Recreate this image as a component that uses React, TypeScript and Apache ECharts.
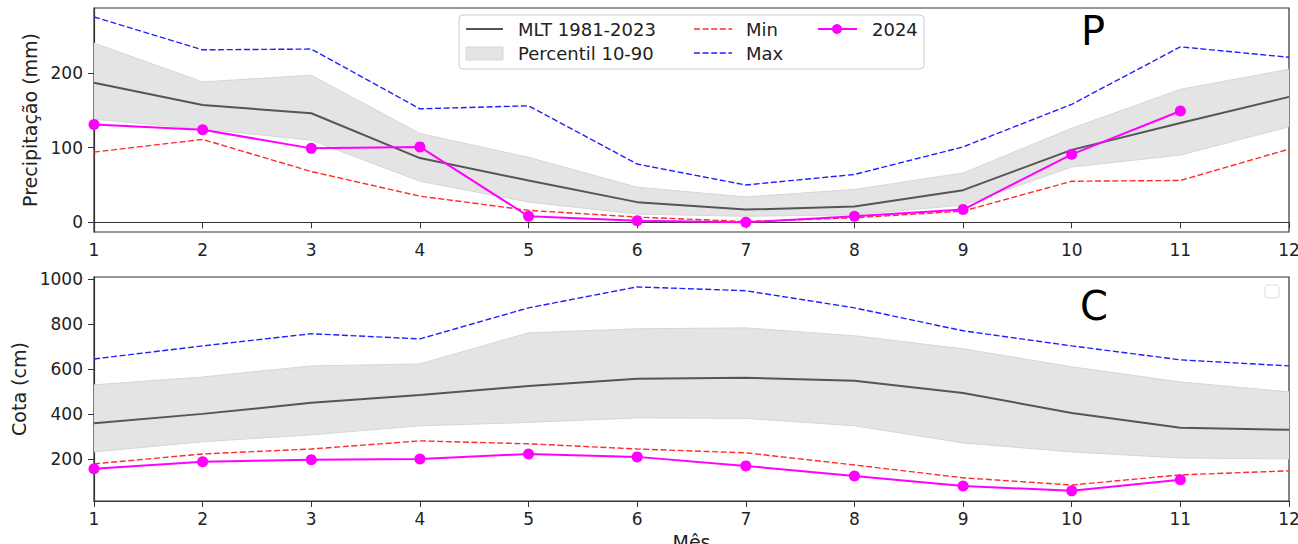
import React, { useEffect, useRef } from "react";
import * as echarts from "echarts";

const months = ["1", "2", "3", "4", "5", "6", "7", "8", "9", "10", "11", "12"];

// Precipitação (mm)
const pMlt = [187, 157, 146, 86, 56, 27, 17, 21, 43, 97, 133, 168];
const pP10 = [138, 125, 110, 55, 27, 11, 8, 10, 23, 74, 90, 128];
const pP90 = [240, 188, 197, 119, 87, 47, 34, 44, 66, 126, 178, 205];
const pMin = [94, 111, 68, 35, 16, 7, 1, 6, 15, 55, 56, 98];
const pMax = [275, 231, 232, 152, 156, 78, 50, 64, 101, 158, 235, 221];
const p2024 = [131, 124, 99, 101, 8, 2, 0, 8, 17, 91, 149];

// Cota (cm)
const cMlt = [358, 400, 449, 484, 524, 556, 560, 547, 493, 404, 338, 329];
const cP10 = [231, 276, 307, 347, 362, 382, 380, 347, 271, 231, 204, 200];
const cP90 = [529, 564, 613, 622, 760, 778, 782, 747, 689, 609, 542, 498];
const cMin = [178, 222, 244, 280, 267, 244, 227, 173, 116, 84, 129, 147];
const cMax = [644, 702, 756, 733, 871, 964, 947, 871, 769, 702, 640, 613];
const c2024 = [156, 187, 196, 200, 222, 209, 169, 124, 80, 58, 107];

const pTicks = [0, 100, 200];
const cTicks = [200, 400, 600, 800, 1000];

const FONT = "DejaVu Sans";
const TXT = "#222";
const DASH = [6, 2.6];
const C_MLT = "#555555";
const C_BAND = "#e4e4e4";
const C_MIN = "#ff2a2a";
const C_MAX = "#2020ff";
const C_2024 = "#ff00ff";

function panelSeries(idx: number, mlt: number[], p10: number[], p90: number[], mn: number[], mx: number[], y24: number[]) {
  const stack = "band" + idx;
  return [
    {
      type: "line", name: "p10_" + idx, xAxisIndex: idx, yAxisIndex: idx, stack,
      data: p10, symbol: "none", lineStyle: { color: "#d6d6d6", width: 1 }, z: 1,
    },
    {
      type: "line", name: "Percentil 10-90", xAxisIndex: idx, yAxisIndex: idx, stack,
      data: p90.map((v, i) => v - p10[i]), symbol: "none",
      lineStyle: { color: "#d6d6d6", width: 1 },
      areaStyle: { color: C_BAND, opacity: 1 }, z: 1,
    },
    {
      type: "line", name: "MLT 1981-2023", xAxisIndex: idx, yAxisIndex: idx, data: mlt, symbol: "none",
      lineStyle: { color: C_MLT, width: 2 }, z: 3,
    },
    {
      type: "line", name: "Min", xAxisIndex: idx, yAxisIndex: idx, data: mn, symbol: "none",
      lineStyle: { color: C_MIN, width: 1.4, type: DASH }, z: 4,
    },
    {
      type: "line", name: "Max", xAxisIndex: idx, yAxisIndex: idx, data: mx, symbol: "none",
      lineStyle: { color: C_MAX, width: 1.4, type: DASH }, z: 4,
    },
    {
      type: "line", name: "2024", xAxisIndex: idx, yAxisIndex: idx, data: y24, symbol: "circle", symbolSize: 11,
      lineStyle: { color: C_2024, width: 2 }, itemStyle: { color: C_2024 }, z: 5,
    },
  ];
}

function legendGraphic() {
  const r1 = 29, r2 = 53;
  const txt = (x: number, y: number, t: string) => ({
    type: "text", z: 101, style: { x, y, text: t, fontSize: 18, fontFamily: FONT, fill: TXT, verticalAlign: "middle", align: "left" },
  });
  const ln = (x1: number, x2: number, y: number, color: string, dash?: number[]) => ({
    type: "line", z: 101, shape: { x1, y1: y, x2, y2: y },
    style: { stroke: color, lineWidth: dash ? 1.4 : 2, lineDash: dash || null },
  });
  return [
    { type: "rect", z: 100, shape: { x: 459, y: 15, width: 465, height: 54, r: 4 }, style: { fill: "rgba(255,255,255,0.8)", stroke: "#cccccc", lineWidth: 1 } },
    ln(466, 503, r1, C_MLT),
    txt(518, r1, "MLT 1981-2023"),
    { type: "rect", z: 101, shape: { x: 466, y: 47, width: 37, height: 13 }, style: { fill: C_BAND, stroke: "#d6d6d6", lineWidth: 1 } },
    txt(518, r2, "Percentil 10-90"),
    ln(694, 732, r1, C_MIN, DASH),
    txt(746, r1, "Min"),
    ln(694, 732, r2, C_MAX, DASH),
    txt(746, r2, "Max"),
    ln(818, 857, r1, C_2024),
    { type: "circle", z: 102, shape: { cx: 837, cy: r1, r: 5 }, style: { fill: C_2024 } },
    txt(872, r1, "2024"),
  ];
}

export default function App() {
  const ref = useRef<HTMLDivElement>(null);
  useEffect(() => {
    document.body.style.margin = "0";
    const chart = echarts.init(ref.current!, null, { renderer: "svg" });
    const xAxisBase = (idx: number, name?: string) => ({
      type: "category", gridIndex: idx, data: months, boundaryGap: false,
      axisLine: { lineStyle: { color: "#333", width: 1.2 } },
      axisTick: { length: 6, lineStyle: { color: "#333" }, alignWithLabel: true },
      axisLabel: { color: TXT, fontSize: 17, fontFamily: FONT, margin: 9 },
      name, nameLocation: "middle", nameGap: 31,
      nameTextStyle: { color: TXT, fontSize: 19, fontFamily: FONT },
    });
    const yAxisBase = (idx: number, min: number, max: number, ticks: number[], name: string, gap: number) => ({
      type: "value", gridIndex: idx, min, max, splitLine: { show: false },
      axisLine: { show: true, lineStyle: { color: "#333", width: 1.2 } },
      axisTick: { show: true, length: 6, lineStyle: { color: "#333" }, customValues: ticks },
      axisLabel: { color: TXT, fontSize: 17, fontFamily: FONT, margin: 11, customValues: ticks, formatter: (v: number) => String(v) },
      name, nameLocation: "middle", nameGap: gap, nameRotate: 90,
      nameTextStyle: { color: TXT, fontSize: 19, fontFamily: FONT },
    });
    const gridBase = { left: 94, right: 9, height: 224, show: true, borderColor: "#333", borderWidth: 1.2, containLabel: false, outerBoundsMode: "none" };
    chart.setOption({
      animation: false,
      backgroundColor: "#ffffff",
      grid: [
        { ...gridBase, top: 8 },
        { ...gridBase, top: 277 },
      ],
      xAxis: [xAxisBase(0), xAxisBase(1, "Mês")],
      yAxis: [
        yAxisBase(0, -13, 287, pTicks, "Precipitação (mm)", 53),
        yAxisBase(1, 13, 1008, cTicks, "Cota (cm)", 66),
      ],
      graphic: [
        ...legendGraphic(),
        { type: "rect", z: 100, shape: { x: 1265, y: 285, width: 14, height: 13, r: 3 }, style: { fill: "rgba(255,255,255,0.8)", stroke: "#dddddd", lineWidth: 1 } },
        { type: "text", z: 100, style: { x: 1081, y: 11, text: "P", fontSize: 40, fontFamily: FONT, fill: "#000" } },
        { type: "text", z: 100, style: { x: 1080, y: 286, text: "C", fontSize: 40, fontFamily: FONT, fill: "#000" } },
      ],
      series: [
        ...panelSeries(0, pMlt, pP10, pP90, pMin, pMax, p2024),
        ...panelSeries(1, cMlt, cP10, cP90, cMin, cMax, c2024),
      ],
    });
    return () => chart.dispose();
  }, []);
  return <div ref={ref} style={{ width: 1298, height: 544 }} />;
}
